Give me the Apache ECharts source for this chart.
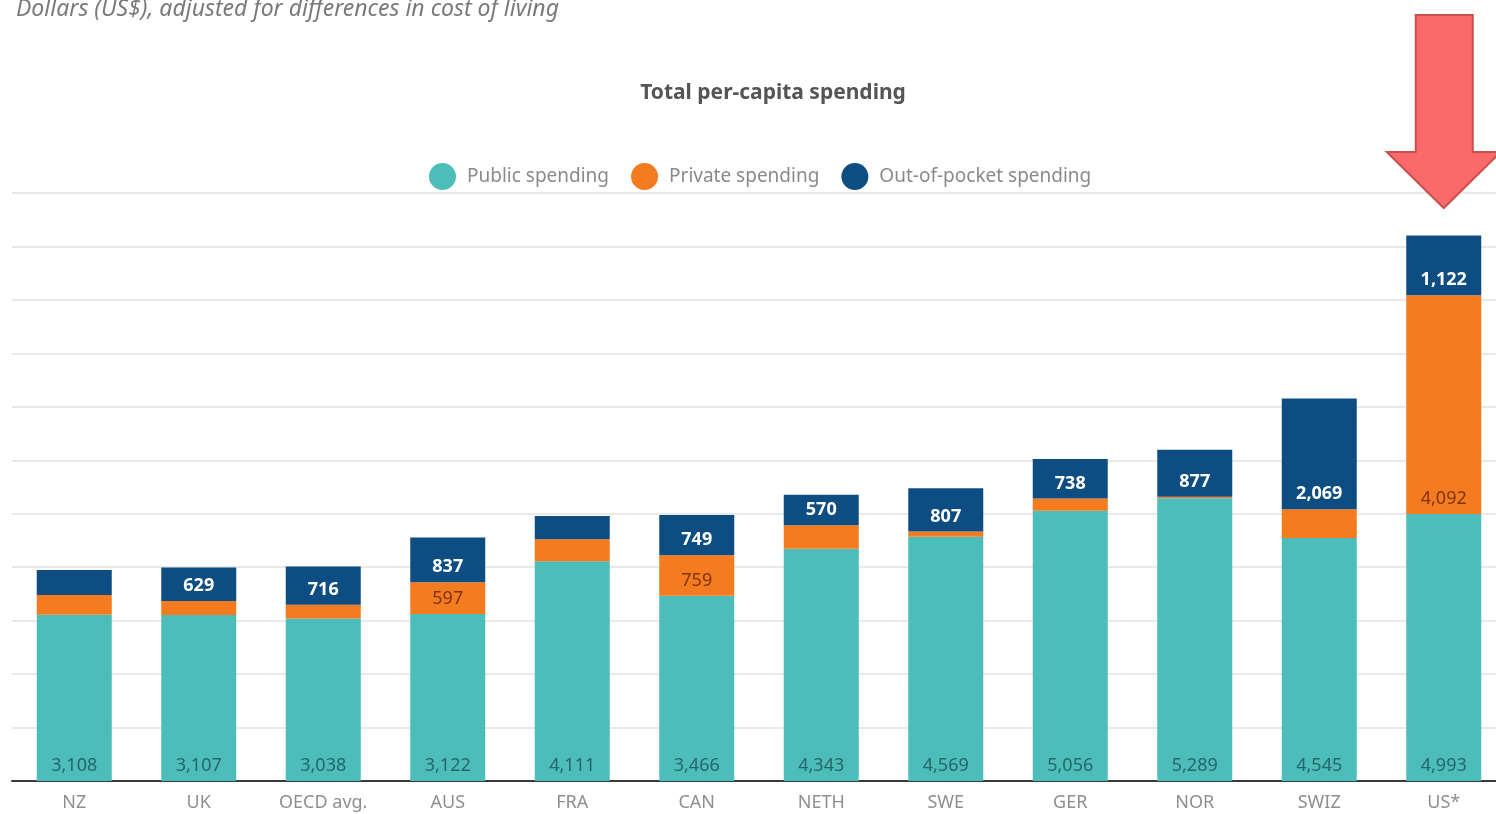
<!DOCTYPE html>
<html>
<head>
<meta charset="utf-8">
<script src="https://cdn.jsdelivr.net/npm/echarts@6/dist/echarts.min.js"></script>
<style>
  html, body { margin: 0; padding: 0; background: #ffffff; overflow: hidden; }
  /* The plot runs a little past the right edge of the window */
  #chart { width: 1506px; height: 814px; }
</style>
</head>
<body>
<div id="chart"></div>
<script>
// Per-capita health spending, US$ adjusted for cost of living
const categories = ['NZ', 'UK', 'OECD avg.', 'AUS', 'FRA', 'CAN', 'NETH', 'SWE', 'GER', 'NOR', 'SWIZ', 'US*'];
const publicSpending = [3108, 3107, 3038, 3122, 4111, 3466, 4343, 4569, 5056, 5289, 4545, 4993];
const privateSpending = [370, 260, 260, 597, 410, 759, 440, 100, 230, 30, 540, 4092];
const outOfPocketSpending = [470, 629, 716, 837, 435, 749, 570, 807, 738, 877, 2069, 1122];

// Which segments carry a printed value
const privateLabeled = ['AUS', 'CAN', 'US*'];
const outOfPocketUnlabeled = ['NZ', 'FRA'];

const FONT = '"Noto Sans", "Open Sans", sans-serif';
const fmt = v => Number(v).toLocaleString('en-US');

const chart = echarts.init(document.getElementById('chart'), null, { renderer: 'canvas' });

function labelled(values, showFn) {
  return values.map((v, i) => ({
    value: v,
    label: { show: showFn(categories[i]) }
  }));
}

const option = {
  backgroundColor: '#ffffff',
  animation: false,
  title: [
    {
      text: 'Dollars (US$), adjusted for differences in cost of living',
      left: 11, top: -7,
      textStyle: { fontFamily: FONT, fontStyle: 'italic', fontWeight: 'normal', fontSize: 23, color: '#7a7a7a' }
    },
    {
      text: 'Total per-capita spending',
      left: 768, top: 78, textAlign: 'center',
      textStyle: { fontFamily: FONT, fontWeight: 'bold', fontSize: 21, color: '#555555' }
    }
  ],
  legend: {
    top: 158, left: 424,
    icon: 'circle',
    itemWidth: 27, itemHeight: 27, itemGap: 22,
    textStyle: { fontFamily: FONT, fontSize: 19, color: '#8a8a8a', padding: [0, 0, 0, 6] },
    data: ['Public spending', 'Private spending', 'Out-of-pocket spending']
  },
  grid: { left: 12, right: 0, top: 193, bottom: 33, containLabel: false },
  xAxis: {
    type: 'category',
    data: categories,
    axisLine: { lineStyle: { color: '#3a3a3a', width: 2 } },
    axisTick: { show: false },
    axisLabel: { fontFamily: FONT, fontSize: 18, color: '#8f8f8f', margin: 13 }
  },
  yAxis: {
    type: 'value',
    min: 0, max: 11000, interval: 1000,
    axisLabel: { show: false },
    axisLine: { show: false },
    axisTick: { show: false },
    splitLine: { lineStyle: { color: '#e9e9e9', width: 2 } }
  },
  series: [
    {
      name: 'Public spending',
      type: 'bar', stack: 'total', barWidth: 75,
      itemStyle: { color: '#4dbdba' },
      label: {
        show: true, position: 'insideBottom', distance: 6,
        fontFamily: FONT, fontSize: 18, color: '#266769',
        formatter: p => fmt(p.value)
      },
      data: publicSpending
    },
    {
      name: 'Private spending',
      type: 'bar', stack: 'total', barWidth: 75,
      itemStyle: { color: '#f47b20' },
      label: {
        position: 'insideBottom', distance: 6,
        fontFamily: FONT, fontSize: 18, color: '#7e3410',
        formatter: p => fmt(p.value)
      },
      data: labelled(privateSpending, c => privateLabeled.includes(c))
    },
    {
      name: 'Out-of-pocket spending',
      type: 'bar', stack: 'total', barWidth: 75,
      itemStyle: { color: '#0e4d82' },
      label: {
        position: 'insideBottom', distance: 6,
        fontFamily: FONT, fontSize: 18, fontWeight: 'bold', color: '#ffffff',
        formatter: p => fmt(p.value)
      },
      data: labelled(outOfPocketSpending, c => !outOfPocketUnlabeled.includes(c))
    }
  ]
};

chart.setOption(option);

// Red call-out arrow pointing down at the US bar
const usX = chart.convertToPixel({ xAxisIndex: 0 }, 'US*');
chart.setOption({
  graphic: [{
    type: 'polygon',
    shape: {
      points: [
        [usX - 28, 15], [usX + 29, 15], [usX + 29, 152], [usX + 57, 152],
        [usX, 208], [usX - 57, 152], [usX - 28, 152]
      ]
    },
    style: { fill: '#fa6a6a', stroke: '#c9504d', lineWidth: 2 },
    z: 100
  }]
});
</script>
</body>
</html>
